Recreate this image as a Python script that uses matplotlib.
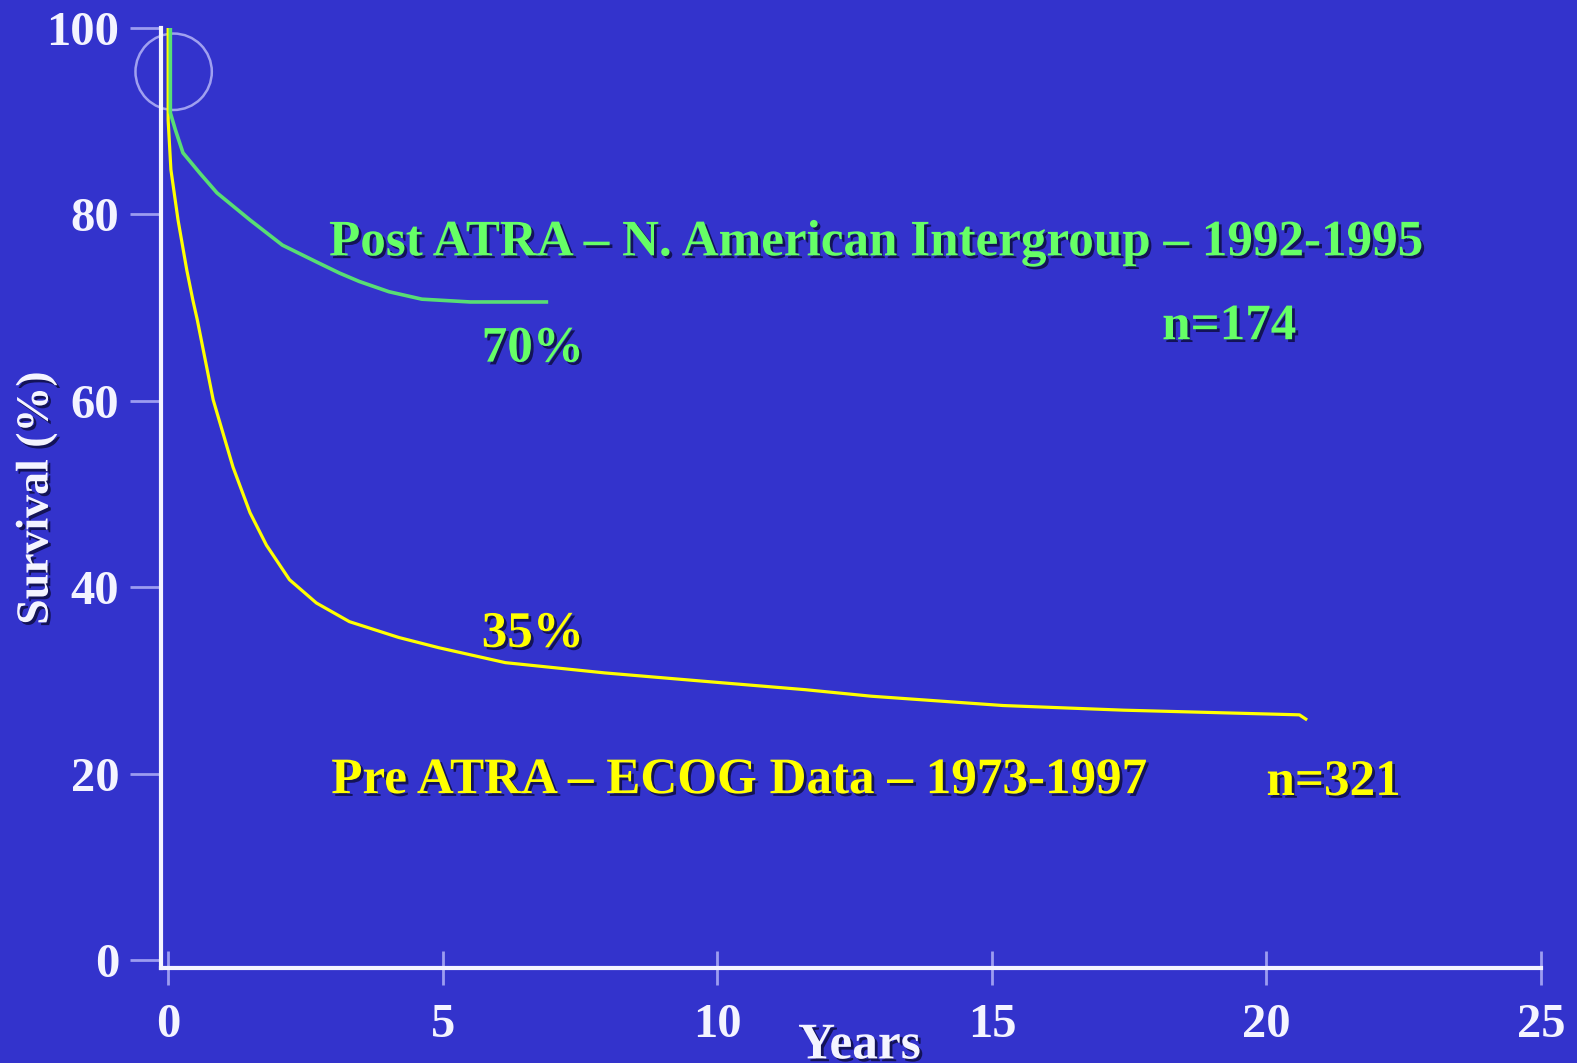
import matplotlib
matplotlib.use("Agg")
import matplotlib.pyplot as plt
import matplotlib.patches as mpatches
import matplotlib.patheffects as pe

# survival curves (years, % surviving)
post_years = [0.04, 0.04, 0.13, 0.27, 0.58, 0.89, 1.49, 2.08, 2.70, 3.12, 3.48, 4.02, 4.62, 5.5, 6.92]
post_surv = [100, 90.9, 89.1, 86.6, 84.4, 82.3, 79.4, 76.7, 74.9, 73.7, 72.8, 71.7, 70.9, 70.6, 70.6]

pre_years = [0, 0.0, 0.05, 0.18, 0.34, 0.45, 0.53, 0.82, 1.18, 1.49, 1.79, 2.21, 2.70, 3.30,
             4.20, 4.93, 6.14, 7.95, 9.76, 11.6, 12.8, 15.2, 17.4, 20.6, 20.74]
pre_surv = [100, 90.1, 84.8, 79.4, 74.0, 70.8, 68.7, 60.1, 52.9, 48.0, 44.5, 40.8, 38.3, 36.3,
            34.6, 33.5, 31.9, 30.8, 29.9, 29.0, 28.3, 27.3, 26.8, 26.3, 25.75]

x_ticks = [0, 5, 10, 15, 20, 25]
y_ticks = [0, 20, 40, 60, 80, 100]

BG = '#3333cc'
GREEN_LINE = '#58de74'
GREEN_TXT = '#66ff66'
YELLOW = '#ffff00'
AXIS = '#f4f4ff'
SERIF = 'Liberation Serif'

fig = plt.figure(figsize=(15.77, 10.63), dpi=100, facecolor=BG)
ax = fig.add_axes([0.1021, 0.0894, 0.8751, 0.8843], facecolor=BG)
ax.set_xlim(-0.13, 25)
ax.set_ylim(-0.86, 100)

for s in ['top', 'right']:
    ax.spines[s].set_visible(False)
for s in ['left', 'bottom']:
    ax.spines[s].set_color(AXIS)
    ax.spines[s].set_linewidth(3)

ax.set_xticks(x_ticks)
ax.set_yticks(y_ticks)
ax.tick_params(axis='x', direction='inout', length=25, width=2, color='#9c9cf0', pad=13,
               labelsize=35, labelcolor=AXIS)
ax.tick_params(axis='y', direction='out', length=22, width=2, color='#9c9cf0', pad=8,
               labelsize=35, labelcolor=AXIS)
for lab in ax.get_xticklabels() + ax.get_yticklabels():
    lab.set_family(SERIF)
    lab.set_fontweight('bold')

shadow = [pe.SimplePatchShadow(offset=(2, -2), shadow_rgbFace='#10104a', alpha=0.9), pe.Normal()]

ax.set_ylabel('Survival (%)', family=SERIF, fontweight='bold', fontsize=33, color=AXIS)
ax.yaxis.set_label_coords(-0.075, 0.5)
ax.yaxis.label.set_path_effects(shadow)
ax.set_xlabel('Years', family=SERIF, fontweight='bold', fontsize=37, color=AXIS)
ax.xaxis.set_label_coords(0.506, -0.059)
ax.xaxis.label.set_path_effects(shadow)

ax.plot(pre_years, pre_surv, color=YELLOW, lw=2.3, solid_joinstyle='round', solid_capstyle='butt')
ax.plot(post_years, post_surv, color=GREEN_LINE, lw=2.6, solid_joinstyle='round', solid_capstyle='butt')

# highlight ring at the start of the curves
ax.add_patch(mpatches.Ellipse((0.1, 95.3), 1.39, 8.2, fill=False, ec='#a0a0f0', lw=1.8,
                              clip_on=False))

txt = dict(family=SERIF, fontweight='bold', fontsize=36.8, va='baseline', ha='left',
           path_effects=shadow)
ax.text(2.93, 75.6, 'Post ATRA \u2013 N. American Intergroup \u2013 1992-1995', color=GREEN_TXT, **txt)
ax.text(5.71, 64.2, '70%', color=GREEN_TXT, **txt)
ax.text(18.1, 66.6, 'n=174', color=GREEN_TXT, **txt)
ax.text(5.71, 33.6, '35%', color=YELLOW, **txt)
ax.text(2.97, 17.9, 'Pre ATRA \u2013 ECOG Data \u2013 1973-1997', color=YELLOW, **txt)
ax.text(20.0, 17.7, 'n=321', color=YELLOW, **txt)

fig.savefig('out.png', dpi=100, facecolor=BG)
